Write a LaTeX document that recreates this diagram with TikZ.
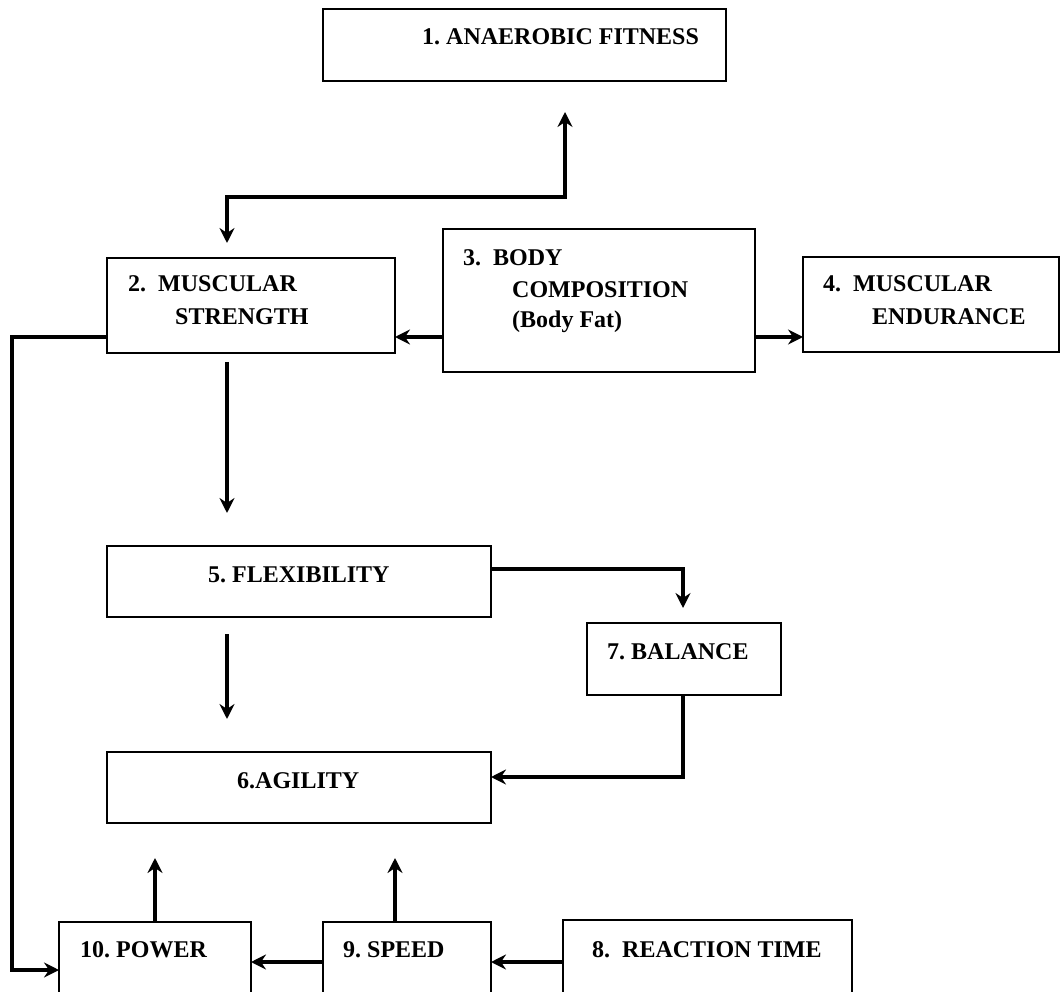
\documentclass[tikz,border=0pt]{standalone}
\usepackage{fontspec}
\setmainfont{Liberation Serif}
\usetikzlibrary{arrows.meta}
\begin{document}
\begin{tikzpicture}[x=1pt,y=-1pt,
  box/.style={draw=black, line width=1.6pt, inner sep=0pt, outer sep=0pt, anchor=north west},
  lbl/.style={anchor=base west, inner sep=0pt, text=black,
    font=\fontsize{24}{28}\selectfont\bfseries\frenchspacing},
  tip/.tip={Stealth[length=15pt,width=15pt,inset=5pt]},
  link/.style={line width=3.2pt, -tip},
  dlink/.style={line width=3.2pt, tip-tip}]
\useasboundingbox (0,0) rectangle (1061,992);
\clip (0,0) rectangle (1061,992);

% boxes (north-west corner, size)
\node[box, minimum width=403pt, minimum height=72pt]  (b1)  at (323,9)   {};
\node[box, minimum width=288pt, minimum height=95pt]  (b2)  at (107,258) {};
\node[box, minimum width=312pt, minimum height=143pt] (b3)  at (443,229) {};
\node[box, minimum width=256pt, minimum height=95pt]  (b4)  at (803,257) {};
\node[box, minimum width=384pt, minimum height=71pt]  (b5)  at (107,546) {};
\node[box, minimum width=384pt, minimum height=71pt]  (b6)  at (107,752) {};
\node[box, minimum width=194pt, minimum height=72pt]  (b7)  at (587,623) {};
\node[box, minimum width=289pt, minimum height=90pt]  (b8)  at (563,920) {};
\node[box, minimum width=168pt, minimum height=90pt]  (b9)  at (323,922) {};
\node[box, minimum width=192pt, minimum height=90pt]  (b10) at (59,922)  {};

% labels
\node[lbl] (l1)  at (422,45)  {1. ANAEROBIC FITNESS};
\node[lbl] (l2a) at (128,292) {2.\ \ MUSCULAR};
\node[lbl] (l2b) at (175,325) {STRENGTH};
\node[lbl] (l3a) at (463,266) {3.\ \ BODY};
\node[lbl] (l3b) at (512,298) {COMPOSITION};
\node[lbl] (l3c) at (512,328) {(Body Fat)};
\node[lbl] (l4a) at (823,292) {4.\ \ MUSCULAR};
\node[lbl] (l4b) at (872,325) {ENDURANCE};
\node[lbl] (l5)  at (208,582) {5. FLEXIBILITY};
\node[lbl] (l6)  at (237,788) {6.AGILITY};
\node[lbl] (l7)  at (607,659) {7. BALANCE};
\node[lbl] (l8)  at (592,957) {8.\ \ REACTION TIME};
\node[lbl] (l9)  at (343,957) {9. SPEED};
\node[lbl] (l10) at (80,957)  {10. POWER};

% routing levels and columns
\coordinate (hz)   at (0,197);
\coordinate (lvA)  at (0,337);
\coordinate (lvB)  at (0,569);
\coordinate (lvC)  at (0,777);
\coordinate (lvD)  at (0,962);
\coordinate (colA) at (227,0);
\coordinate (colB) at (683,0);
\coordinate (colC) at (565,0);
\coordinate (colD) at (395,0);
\coordinate (rail) at (12,970);

% connectors
\draw[dlink, shorten <=15pt, shorten >=31pt]
  (b2.north -| colA) |- (hz -| colC) -- (b1.south -| colC);
\draw[link] (b3.west |- lvA) -- (b2.east |- lvA);
\draw[link] (b3.east |- lvA) -- (b4.west |- lvA);
\draw[link] (b2.west |- lvA) -| (rail) -- (b10.west |- rail);
\draw[link, shorten <=9pt, shorten >=33pt] (b2.south -| colA) -- (b5.north -| colA);
\draw[link, shorten <=17pt, shorten >=33pt] (b5.south -| colA) -- (b6.north -| colA);
\draw[link, shorten >=15pt] (b5.east |- lvB) -| (b7.north -| colB);
\draw[link] (b7.south -| colB) |- (b6.east |- lvC);
\draw[link, shorten >=35pt] (b10.north) -- (b6.south -| b10.north);
\draw[link, shorten >=35pt] (b9.north -| colD) -- (b6.south -| colD);
\draw[link] (b9.west |- lvD) -- (b10.east |- lvD);
\draw[link] (b8.west |- lvD) -- (b9.east |- lvD);
\end{tikzpicture}
\end{document}
